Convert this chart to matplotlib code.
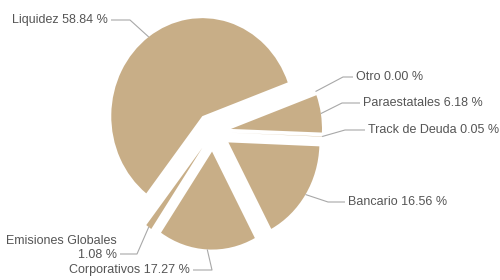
import numpy as np
import matplotlib
matplotlib.use('Agg')
import matplotlib.pyplot as plt

names = ['Liquidez', 'Otro', 'Paraestatales', 'Track de Deuda',
         'Bancario', 'Corporativos', 'Emisiones Globales']
values = [58.84, 0.00, 6.18, 0.05, 16.56, 17.27, 1.08]

# label placement in image pixels: text x, text y, elbow x, side
label_pos = [(108, 20, 130, 'right'),
             (356, 77, 343, 'left'),
             (363, 103, 342, 'left'),
             (368, 130, 345, 'left'),
             (348, 202, 328, 'left'),
             (190, 270, 212, 'right'),
             (117, 248, 137, 'right')]

W, H = 500, 280
CX, CY, RX, RY = 213, 132, 91, 98   # pie centre / radii in pixels
EXPL = 0.2
color = '#c8ae87'
txt_color = '#555555'
line_color = '#a8a8a8'


def px(x, y):
    # image pixel -> pie units
    return (x - CX) / RX, (CY - y) / RY


fig = plt.figure(figsize=(W / 100, H / 100), dpi=100)
ax = fig.add_axes([0, 0, 1, 1])
wedges, _ = ax.pie(values, colors=[color] * len(values), explode=[EXPL] * len(values),
                   startangle=232, counterclock=False, radius=1,
                   wedgeprops=dict(linewidth=0))
ax.set_aspect('auto')
x0, y0 = px(0, 0)
x1, y1 = px(W, H)
ax.set_xlim(x0, x1)
ax.set_ylim(y1, y0)
ax.axis('off')

for w, name, v, (tx, ty, ex, side) in zip(wedges, names, values, label_pos):
    mid = np.deg2rad((w.theta1 + w.theta2) / 2)
    r = 1 + EXPL
    sx, sy = r * np.cos(mid), r * np.sin(mid)
    conn_y = ty + 6 if len(name) > 15 else ty
    exd, eyd = px(ex, conn_y)
    gap = -3 if side == 'right' else 3
    endx, _ = px(tx - gap, conn_y)
    ax.plot([sx, exd, endx], [sy, eyd, eyd], color=line_color, lw=0.8,
            solid_capstyle='butt')
    sep = '\n' if len(name) > 15 else ' '
    label = f'{name}{sep}{v:.2f} %'
    lx, ly = px(tx, ty)
    ax.text(lx, ly, label, ha=side, va='center', color=txt_color,
            fontsize=9, family='Liberation Sans', multialignment='right',
            linespacing=1.15)

fig.savefig('out.png', dpi=100)
